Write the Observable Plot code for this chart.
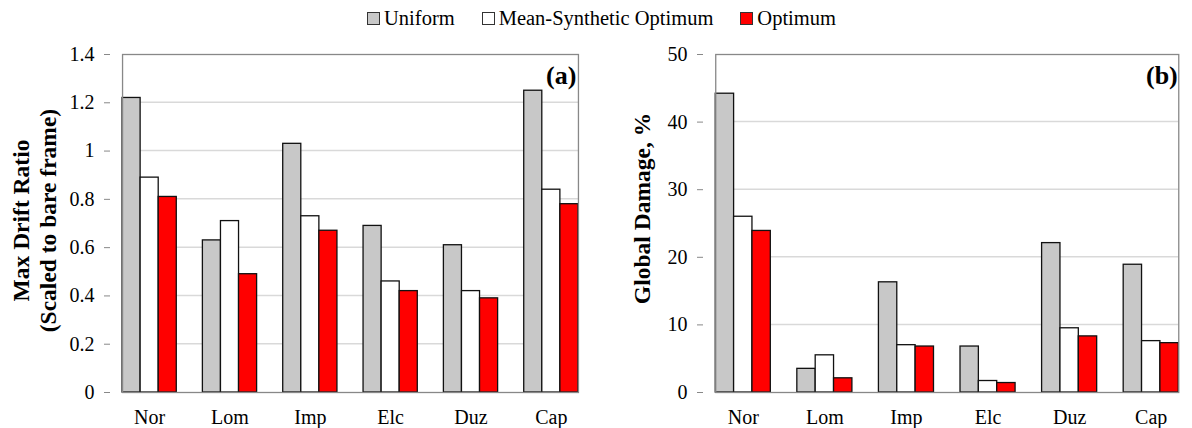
<!DOCTYPE html>
<html>
<head>
<meta charset="utf-8">
<script src="https://cdn.jsdelivr.net/npm/d3@7"></script>
<script src="https://cdn.jsdelivr.net/npm/@observablehq/plot@0.6"></script>
<style>
  body { margin: 0; background: #fff; font-family: "Liberation Serif", "Times New Roman", serif; }
  #legend { height: 36px; display: flex; justify-content: center; align-items: center; gap: 27px; font-size: 20.5px; color: #000; padding-left: 11px; }
  .item { display: flex; align-items: center; }
  .sw { width: 13px; height: 13px; border: 1px solid #333; margin-right: 4px; box-sizing: border-box; }
  #charts { display: flex; }
  #charts svg text { font-family: "Liberation Serif", "Times New Roman", serif; }
</style>
</head>
<body>
<div id="legend"></div>
<div id="charts"></div>
<script>
// Ground motion records and optimisation strategies
const categories = ["Nor", "Lom", "Imp", "Elc", "Duz", "Cap"];
const series = ["Uniform", "Mean-Synthetic Optimum", "Optimum"];
const seriesColors = ["#c8c8c8", "#ffffff", "#ff0000"];

// (a) maximum inter-storey drift ratio, scaled to the bare frame
const driftUniform = [1.22, 0.63, 1.03, 0.69, 0.61, 1.25];
const driftMeanSynthetic = [0.89, 0.71, 0.73, 0.46, 0.42, 0.84];
const driftOptimum = [0.81, 0.49, 0.67, 0.42, 0.39, 0.78];
const driftTicks = [0, 0.2, 0.4, 0.6, 0.8, 1, 1.2, 1.4];

// (b) global damage index, %
const damageUniform = [44.2, 3.5, 16.3, 6.8, 22.1, 18.9];
const damageMeanSynthetic = [26.0, 5.5, 7.0, 1.7, 9.5, 7.6];
const damageOptimum = [23.9, 2.1, 6.8, 1.4, 8.3, 7.3];
const damageTicks = [0, 10, 20, 30, 40, 50];

const serif = "Liberation Serif, Times New Roman, serif";
const groupPaddingInner = 0.325;
const groupPaddingOuter = 0.15;

function toRows(arrays) {
  return categories.flatMap((cat, i) =>
    series.map((s, j) => ({cat, series: s, value: arrays[j][i]}))
  );
}

// legend
const legend = document.getElementById("legend");
series.forEach((s, i) => {
  const item = document.createElement("div");
  item.className = "item";
  const sw = document.createElement("span");
  sw.className = "sw";
  sw.style.background = seriesColors[i];
  const label = document.createElement("span");
  label.textContent = s;
  item.append(sw, label);
  legend.append(item);
});

// horizontal gridlines spanning the whole plot area (across all facets)
function gridLines(values) {
  return Plot.frame({
    facet: "super",
    stroke: "none",
    render(index, scales, channels, dimensions) {
      const {marginLeft, marginRight, width} = dimensions;
      const g = d3.create("svg:g").attr("stroke", "#d9d9d9").attr("stroke-width", 1.5);
      for (const t of values) {
        const y = scales.y(t);
        g.append("line").attr("x1", marginLeft).attr("x2", width - marginRight).attr("y1", y).attr("y2", y);
      }
      return g.node();
    }
  });
}

function panel({rows, ticks, format, title, titleDx, titleDy, tag, tagDx, marginLeft, marginRight}) {
  const width = 596;
  const top = ticks[ticks.length - 1];
  const grid = ticks.filter(t => t > 0 && t < top);
  // the y axis is attached to the first facet; shift it back onto the plot frame
  const step = (width - marginLeft - marginRight) / (categories.length - groupPaddingInner + 2 * groupPaddingOuter);
  const axisShift = -groupPaddingOuter * step;
  return Plot.plot({
    width,
    height: 392,
    marginTop: 18,
    marginBottom: 36,
    marginLeft,
    marginRight,
    style: {fontFamily: serif, fontSize: "20px", color: "#000", background: "#fff", overflow: "visible"},
    fx: {domain: categories, paddingInner: groupPaddingInner, paddingOuter: groupPaddingOuter, round: false, label: null},
    x: {domain: series, padding: 0, axis: null, round: false},
    y: {domain: [0, top]},
    color: {domain: series, range: seriesColors},
    marks: [
      gridLines(grid),
      Plot.barY(rows, {fx: "cat", x: "series", y: "value", fill: "series", stroke: "#111", strokeWidth: 1.3}),
      Plot.frame({stroke: "#888", strokeWidth: 1.3, facet: "super"}),
      Plot.axisY(ticks, {tickSize: 6, tickPadding: 10, dx: axisShift, tickFormat: format, stroke: "#888", fill: "#000", fontSize: 20, fontFamily: serif, label: null}),
      Plot.axisFx({anchor: "bottom", tickSize: 0, tickPadding: 17, fontSize: 20, fontFamily: serif, label: null, fill: "#000"}),
      Plot.text([title], {frameAnchor: "left", textAnchor: "middle", lineAnchor: "middle", rotate: -90, dx: titleDx, dy: titleDy, fontWeight: "bold", fontSize: 23.5, fontFamily: serif, lineHeight: 1.17, fill: "#000", facet: "super"}),
      Plot.text([tag], {frameAnchor: "top-right", textAnchor: "end", lineAnchor: "bottom", dx: tagDx, dy: 29, fontWeight: "bold", fontSize: 26, fontFamily: serif, fill: "#000", facet: "super"})
    ]
  });
}

const charts = document.getElementById("charts");
charts.append(panel({
  rows: toRows([driftUniform, driftMeanSynthetic, driftOptimum]),
  ticks: driftTicks,
  format: d => String(Math.round(d * 10) / 10),
  title: "Max Drift Ratio\n(Scaled to bare frame)",
  titleDx: -89, titleDy: -3,
  tag: "(a)", tagDx: -2,
  marginLeft: 110, marginRight: 6
}));
charts.append(panel({
  rows: toRows([damageUniform, damageMeanSynthetic, damageOptimum]),
  ticks: damageTicks,
  format: d => String(d),
  title: "Global Damage, %",
  titleDx: -75, titleDy: -15,
  tag: "(b)", tagDx: -1,
  marginLeft: 107, marginRight: 1.5
}));
</script>
</body>
</html>
